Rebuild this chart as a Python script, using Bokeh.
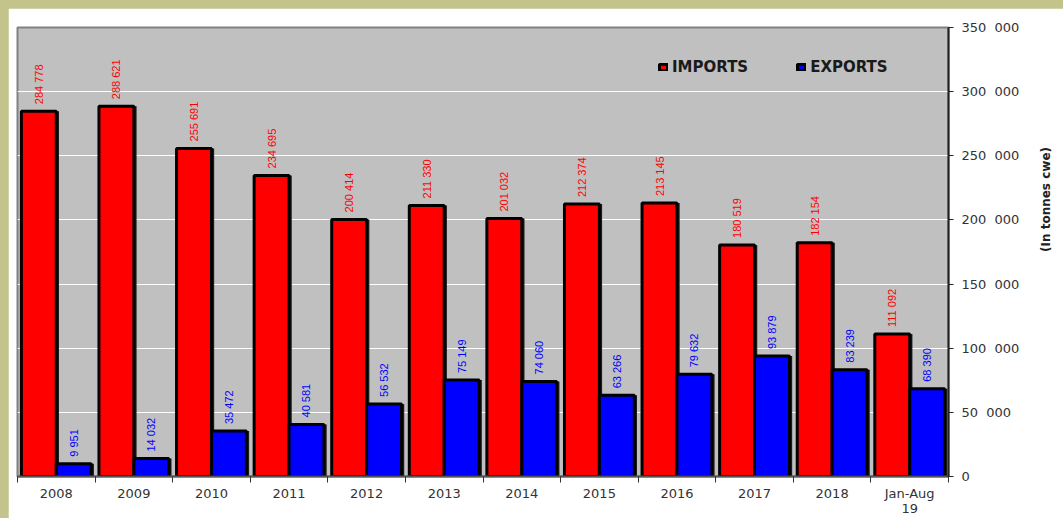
import numpy as np
from bokeh.plotting import figure
from bokeh.models import ColumnDataSource, FixedTicker, Range1d, Legend, LegendItem
from bokeh.transform import dodge
from bokeh.core.properties import value
from bokeh.embed import file_html
from bokeh.resources import INLINE

categories = ["2008", "2009", "2010", "2011", "2012", "2013", "2014", "2015",
              "2016", "2017", "2018", "Jan-Aug\n19"]
imports = [284778, 288621, 255691, 234695, 200414, 211330, 201032, 212374,
           213145, 180519, 182154, 111092]
exports = [9951, 14032, 35472, 40581, 56532, 75149, 74060, 63266,
           79632, 93879, 83239, 68390]
y_ticks = [0, 50000, 100000, 150000, 200000, 250000, 300000, 350000]
y_tick_labels = ["0", "50\u00a0\u00a0000", "100\u00a0\u00a0000", "150\u00a0\u00a0000",
                 "200\u00a0\u00a0000", "250\u00a0\u00a0000", "300\u00a0\u00a0000",
                 "350\u00a0\u00a0000"]


def fmt(v):
    return f"{v:,}".replace(",", " ")


x = np.arange(len(categories)) + 0.5
src = ColumnDataSource(dict(
    x=x, imp=imports, exp=exports,
    imp_lbl=[fmt(v) for v in imports],
    exp_lbl=[fmt(v) for v in exports],
))

p = figure(width=1055, height=510,
           x_range=Range1d(0, len(categories)), y_range=Range1d(0, 350000),
           output_backend="svg", toolbar_location=None,
           y_axis_location="right",
           min_border_left=9, min_border_top=19, min_border_right=115,
           min_border_bottom=41,
           background_fill_color="#c0c0c0", border_fill_color="white",
           outline_line_color="#808080", outline_line_width=2)

W = 0.45
OFF = 0.225
SH = 0.035

# shadows
p.vbar(x=dodge('x', -OFF + SH), top='imp', width=W, source=src,
       fill_color="#1a1a1a", line_color=None)
p.vbar(x=dodge('x', OFF + SH), top='exp', width=W, source=src,
       fill_color="#1a1a1a", line_color=None)

r_imp = p.vbar(x=dodge('x', -OFF), top='imp', width=W, source=src,
               fill_color="#ff0000", line_color="black", line_width=3)
r_exp = p.vbar(x=dodge('x', OFF), top='exp', width=W, source=src,
               fill_color="#0000ff", line_color="black", line_width=3)

lbl_font = value("Liberation Sans")
p.text(x=dodge('x', -OFF), y='imp', text='imp_lbl', source=src, angle=np.pi / 2,
       text_align='left', text_baseline='middle', y_offset=-7,
       text_color="#ff0000", text_font=lbl_font, text_font_size="11px")
p.text(x=dodge('x', OFF), y='exp', text='exp_lbl', source=src, angle=np.pi / 2,
       text_align='left', text_baseline='middle', y_offset=-7,
       text_color="#0000ff", text_font=lbl_font, text_font_size="11px")

# grid
p.xgrid.visible = False
p.ygrid.ticker = FixedTicker(ticks=y_ticks)
p.ygrid.grid_line_color = "white"
p.ygrid.grid_line_width = 1

# y axis (right)
yax = p.yaxis[0]
yax.ticker = FixedTicker(ticks=y_ticks)
yax.major_label_overrides = {t: l for t, l in zip(y_ticks, y_tick_labels)}
yax.minor_tick_line_color = None
yax.major_tick_in = 0
yax.major_tick_out = 5
yax.major_tick_line_color = "#222222"
yax.axis_line_color = "#222222"
yax.axis_line_width = 2
yax.major_label_standoff = 8
yax.major_label_text_font = "DejaVu Sans"
yax.major_label_text_font_size = "13px"
yax.major_label_text_color = "#333333"
yax.axis_label = "(In tonnes cwe)"
yax.axis_label_orientation = np.pi / 2
yax.axis_label_standoff = 24
yax.axis_label_text_font = "DejaVu Sans"
yax.axis_label_text_font_size = "12px"
yax.axis_label_text_font_style = "bold"
yax.axis_label_text_color = "#222222"

# x axis
xax = p.xaxis[0]
xax.ticker = FixedTicker(ticks=list(x), minor_ticks=list(range(len(categories) + 1)))
xax.major_label_overrides = {float(xi): c for xi, c in zip(x, categories)}
xax.major_tick_line_color = None
xax.minor_tick_in = 0
xax.minor_tick_out = 6
xax.minor_tick_line_color = "#333333"
xax.axis_line_color = "#555555"
xax.axis_line_width = 2
xax.major_label_standoff = 3
xax.major_label_text_font = "DejaVu Sans"
xax.major_label_text_font_size = "13px"
xax.major_label_text_line_height = 1.0
xax.major_label_text_color = "#333333"

legend = Legend(items=[LegendItem(label="IMPORTS", renderers=[r_imp]),
                       LegendItem(label="EXPORTS", renderers=[r_exp])],
                orientation="horizontal", location=(641, 400),
                background_fill_alpha=0, border_line_color=None,
                padding=0, margin=0, spacing=48,
                glyph_width=10, glyph_height=8, label_standoff=4,
                label_height=18,
                label_text_font="DejaVu Sans", label_text_font_size="15px",
                label_text_font_style="bold", label_text_color="#1a1a1a")
p.add_layout(legend)

html = file_html(p, INLINE)
html = html.replace(
    "<head>",
    "<head><style>html,body{background:#c3c38c !important;}"
    "body{padding:8px 0 0 8px !important;box-sizing:border-box;}</style>", 1)
open("out.html", "w").write(html)
